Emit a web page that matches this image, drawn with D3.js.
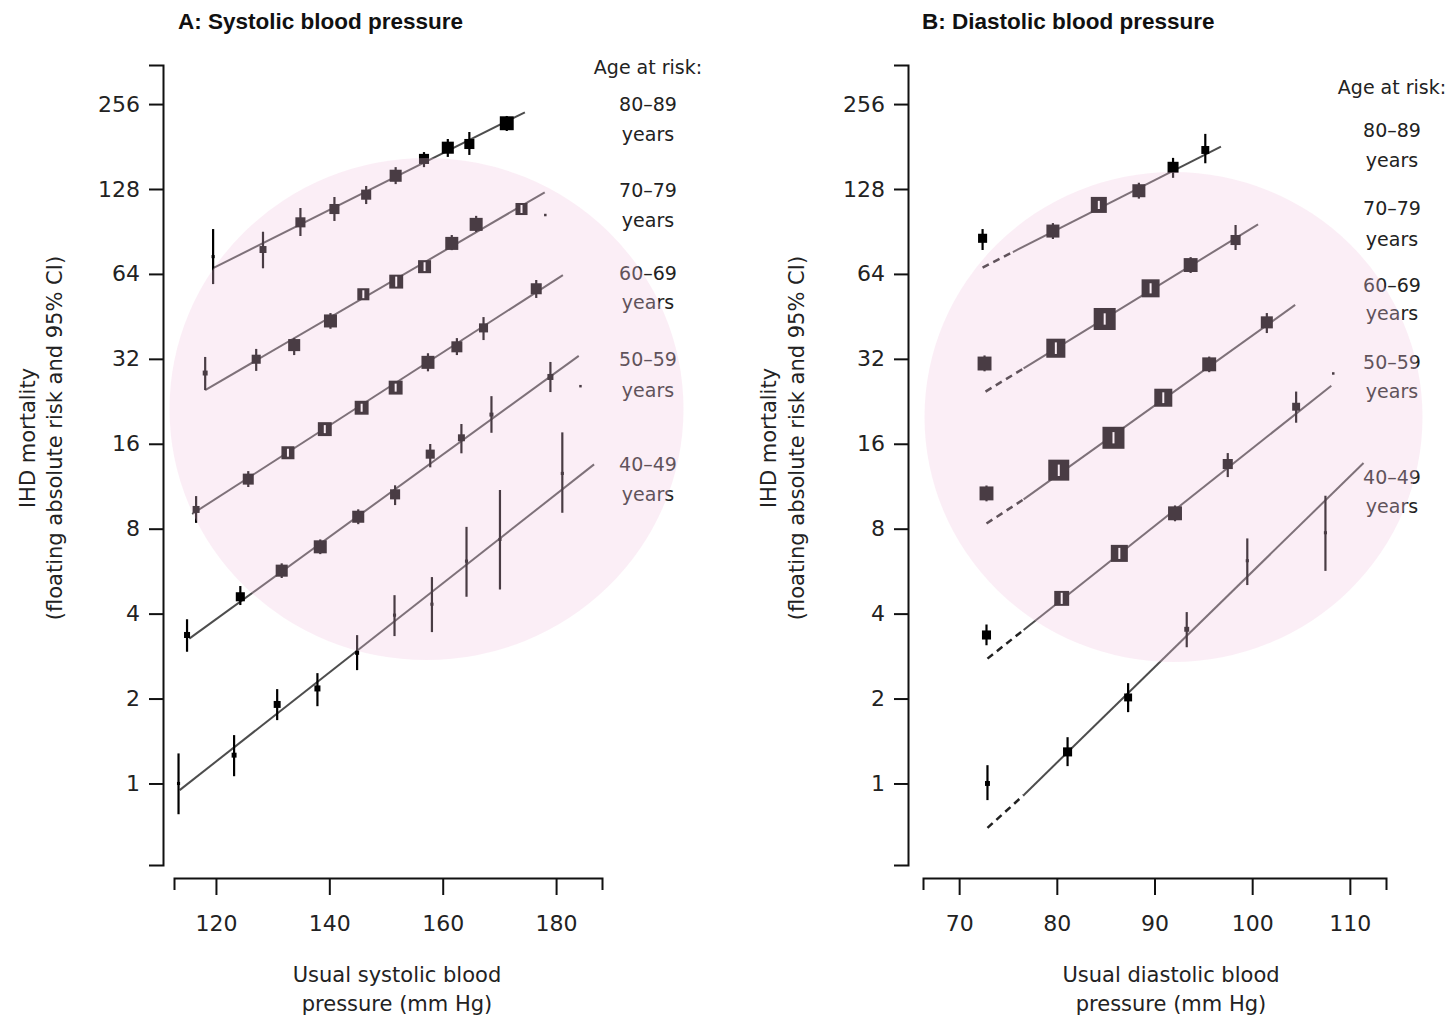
<!DOCTYPE html>
<html>
<head>
<meta charset="utf-8">
<script src="https://cdn.jsdelivr.net/npm/d3@7"></script>
<style>
  body { margin: 0; background: #fff; }
  svg { display: block; }
</style>
</head>
<body>
<div id="chart"></div>
<script>
// ---- data ----
const ageGroups = ["80–89", "70–79", "60–69", "50–59", "40–49"];
const yTicks = [1, 2, 4, 8, 16, 32, 64, 128, 256];
const sbpTicks = [120, 140, 160, 180];
const dbpTicks = [70, 80, 90, 100, 110];

// each point: [usual BP, risk, lower CI, upper CI, weight]
const sbp80 = [
  [119.5, 73.7, 58.9, 92.3, 0.02], [128.3, 78.1, 67.0, 90.3, 0.10], [134.9, 97.5, 87.2, 109.6, 0.21],
  [140.9, 108.7, 98.6, 119.9, 0.21], [146.5, 122.2, 113.2, 131.2, 0.21], [151.7, 142.6, 133.2, 153.0, 0.30],
  [156.7, 163.6, 153.0, 173.0, 0.21], [160.9, 179.3, 166.3, 192.5, 0.30], [164.7, 184.8, 169.0, 203.8, 0.21],
  [171.3, 218.9, 205.5, 232.3, 0.40]
];
const sbp70 = [
  [118.1, 28.5, 24.8, 32.5, 0.05], [127.1, 31.9, 29.0, 34.7, 0.17], [133.8, 35.8, 33.0, 37.9, 0.30],
  [140.2, 43.6, 40.9, 46.5, 0.35], [146.0, 54.2, 52.5, 56.0, 0.30], [151.8, 60.1, 57.7, 62.6, 0.40],
  [156.8, 67.9, 65.5, 70.4, 0.35], [161.6, 82.1, 77.7, 87.9, 0.35], [165.9, 95.9, 90.1, 102.8, 0.35],
  [173.9, 108.7, 105.2, 112.3, 0.30], [178.1, 103.5, 103.5, 103.5, 0.01]
];
const sbp60 = [
  [116.5, 9.36, 8.39, 10.44, 0.10], [125.7, 11.99, 11.24, 12.8, 0.25], [132.7, 14.87, 14.4, 15.36, 0.35],
  [139.2, 18.03, 17.45, 18.63, 0.40], [145.7, 21.47, 20.78, 22.18, 0.40], [151.7, 25.3, 24.49, 26.14, 0.40],
  [157.4, 31.1, 28.9, 33.5, 0.35], [162.5, 35.3, 33.0, 37.9, 0.25], [167.2, 41.2, 37.3, 45.0, 0.17],
  [176.5, 56.7, 52.6, 60.9, 0.25]
];
const sbp50 = [
  [114.9, 3.36, 2.93, 3.82, 0.075], [124.3, 4.59, 4.29, 5.01, 0.17], [131.6, 5.68, 5.35, 6.03, 0.30],
  [138.4, 6.90, 6.50, 7.33, 0.35], [145.1, 8.82, 8.30, 9.37, 0.30], [151.6, 10.59, 9.70, 11.4, 0.21],
  [157.8, 14.7, 13.2, 15.97, 0.17], [163.3, 16.8, 14.8, 18.8, 0.10], [168.6, 20.3, 17.5, 23.6, 0.033],
  [179.0, 27.6, 24.4, 31.2, 0.075], [184.3, 25.6, 25.6, 25.6, 0.01]
];
const sbp40 = [
  [113.4, 1.0, 0.778, 1.278, 0.02], [123.2, 1.26, 1.061, 1.484, 0.05], [130.8, 1.906, 1.677, 2.16, 0.10],
  [137.9, 2.172, 1.879, 2.461, 0.075], [144.9, 2.905, 2.522, 3.356, 0.033], [151.5, 3.951, 3.33, 4.65, 0.02],
  [158.1, 4.32, 3.44, 5.39, 0.02], [164.2, 6.14, 4.59, 8.12, 0.02], [170.1, 7.33, 4.87, 10.97, 0.02],
  [181.1, 12.56, 9.11, 17.56, 0.02]
];

const dbp80 = [
  [72.4, 85.6, 77.8, 92.3, 0.17], [79.6, 90.8, 85.1, 96.9, 0.35], [84.3, 112.4, 108.7, 116.2, 0.53],
  [88.4, 126.2, 118.3, 134.7, 0.35], [91.9, 152.8, 140.2, 165.0, 0.25], [95.2, 176.0, 157.9, 200.7, 0.13]
];
const dbp70 = [
  [72.6, 30.8, 28.9, 32.9, 0.40], [79.9, 34.9, 33.3, 36.6, 0.75], [84.9, 44.3, 42.3, 46.4, 1.0],
  [89.6, 56.9, 54.6, 59.3, 0.67], [93.7, 68.8, 64.5, 73.4, 0.40], [98.3, 84.4, 77.8, 95.4, 0.21]
];
const dbp60 = [
  [72.8, 10.67, 10.0, 11.38, 0.40], [80.2, 12.9, 12.3, 13.5, 0.91], [85.8, 16.8, 16.05, 17.6, 1.0],
  [90.9, 23.3, 22.3, 24.35, 0.67], [95.6, 30.6, 28.7, 32.6, 0.40], [101.5, 43.1, 39.5, 46.5, 0.30]
];
const dbp50 = [
  [72.8, 3.36, 3.09, 3.66, 0.17], [80.5, 4.53, 4.33, 4.74, 0.46], [86.4, 6.54, 6.25, 6.84, 0.60],
  [92.1, 9.07, 8.5, 9.67, 0.40], [97.5, 13.56, 12.19, 14.83, 0.21], [104.5, 21.65, 19.0, 24.5, 0.13],
  [108.3, 28.4, 28.4, 28.4, 0.01]
];
const dbp40 = [
  [72.9, 1.0, 0.873, 1.161, 0.05], [81.1, 1.294, 1.152, 1.459, 0.17], [87.3, 2.018, 1.790, 2.268, 0.13],
  [93.3, 3.52, 3.04, 4.05, 0.05], [99.5, 6.16, 5.05, 7.39, 0.02], [107.5, 7.74, 5.67, 10.47, 0.02]
];

// fitted lines, [BP, risk] at start and end (diastolic: start of dashes, start of solid, end)
const sbpFits = [
  [[119.5, 67.1], [174.5, 239.4]],
  [[118.1, 24.8], [178.0, 124.6]],
  [[115.8, 9.02], [181.2, 63.4]],
  [[115.3, 3.26], [184.0, 32.8]],
  [[113.6, 0.947], [186.7, 13.52]]
];
const dbpFits = [
  [[72.4, 67.4], [75.5, 76.5], [96.8, 180.8]],
  [[72.7, 24.5], [76.6, 29.6], [100.6, 95.9]],
  [[72.8, 8.35], [76.6, 10.16], [104.4, 49.7]],
  [[72.9, 2.77], [76.6, 3.50], [108.1, 25.7]],
  [[72.9, 0.696], [76.6, 0.909], [111.4, 13.67]]
];

// ---- layout ----
const width = 1448, height = 1018;
const font = "'DejaVu Sans', sans-serif";

const svg = d3.select("#chart").append("svg")
  .attr("width", width)
  .attr("height", height)
  .style("background", "#fff");

svg.append("defs").append("clipPath").attr("id", "legendClipB")
  .append("rect").attr("x", 1300).attr("y", 100).attr("width", 122).attr("height", 440);

const size = d3.scaleSqrt().domain([0, 1]).range([0, 22]);

const panels = [
  {
    title: "A: Systolic blood pressure", titleX: 178,
    series: [sbp80, sbp70, sbp60, sbp50, sbp40], fits: sbpFits, dashed: false,
    xDomain: [112.6, 188.1], xRange: [174, 602], xTicks: sbpTicks,
    yAxisX: 163, yLabelX: [28, 55],
    xTitle: ["Usual systolic blood", "pressure (mm Hg)"], xTitleX: 397,
    legendX: 648, legendHead: 74,
    legendRows: [[104, 134], [190, 220], [273, 302], [359, 390], [464, 494]],
    clip: null,
    glow: { cx: 426.5, cy: 409, rx: 257, ry: 251 }
  },
  {
    title: "B: Diastolic blood pressure", titleX: 922,
    series: [dbp80, dbp70, dbp60, dbp50, dbp40], fits: dbpFits, dashed: true,
    xDomain: [66.3, 113.7], xRange: [923, 1386], xTicks: dbpTicks,
    yAxisX: 908, yLabelX: [769, 797],
    xTitle: ["Usual diastolic blood", "pressure (mm Hg)"], xTitleX: 1171,
    legendX: 1392, legendHead: 94,
    legendRows: [[130, 160], [208, 239], [285, 313], [362, 391], [477, 506]],
    clip: "url(#legendClipB)",
    glow: { cx: 1173.5, cy: 417, rx: 249, ry: 245 }
  }
];

const y = d3.scaleLog().base(2)
  .domain([Math.pow(2, -0.96), Math.pow(2, 8.46)])
  .range([865, 65]);

panels.forEach(p => {
  const x = d3.scaleLinear().domain(p.xDomain).range(p.xRange);
  const g = svg.append("g");

  // title
  svg.append("text")
    .attr("x", p.titleX).attr("y", 29)
    .attr("font-family", "'Liberation Sans', Arial, sans-serif")
    .attr("font-weight", "bold")
    .attr("font-size", "22.5px")
    .attr("fill", "#111")
    .text(p.title);

  // fitted lines
  p.fits.forEach(f => {
    if (f.length === 3) {
      g.append("line")
        .attr("x1", x(f[0][0])).attr("y1", y(f[0][1]))
        .attr("x2", x(f[1][0])).attr("y2", y(f[1][1]))
        .attr("stroke", "#222").attr("stroke-width", 2.5)
        .attr("stroke-dasharray", "7,5");
      g.append("line")
        .attr("x1", x(f[1][0])).attr("y1", y(f[1][1]))
        .attr("x2", x(f[2][0])).attr("y2", y(f[2][1]))
        .attr("stroke", "#4d4d4d").attr("stroke-width", 2);
    } else {
      g.append("line")
        .attr("x1", x(f[0][0])).attr("y1", y(f[0][1]))
        .attr("x2", x(f[1][0])).attr("y2", y(f[1][1]))
        .attr("stroke", "#4d4d4d").attr("stroke-width", 2);
    }
  });

  // points with confidence intervals
  p.series.forEach(rows => {
    rows.forEach(r => {
      const cx = x(r[0]), cy = y(r[1]);
      const s = Math.max(size(r[4]), 2.5);
      const top = y(r[3]), bot = y(r[2]);
      const inside = top >= cy - s / 2 && bot <= cy + s / 2;
      if (!inside) {
        g.append("line")
          .attr("x1", cx).attr("x2", cx).attr("y1", top).attr("y2", bot)
          .attr("stroke", "#000").attr("stroke-width", 2.2);
      }
      g.append("rect")
        .attr("x", cx - s / 2).attr("y", cy - s / 2)
        .attr("width", s).attr("height", s)
        .attr("fill", "#000");
      if (inside && bot - top > 1) {
        g.append("line")
          .attr("x1", cx).attr("x2", cx).attr("y1", top).attr("y2", bot)
          .attr("stroke", "#fff").attr("stroke-width", 2);
      }
    });
  });

  // y axis
  const yAxis = svg.append("g")
    .attr("transform", `translate(${p.yAxisX},0)`)
    .call(d3.axisLeft(y).tickValues(yTicks).tickFormat(d3.format("d"))
      .tickSizeInner(14).tickSizeOuter(14).tickPadding(9));
  // x axis
  const xAxis = svg.append("g")
    .attr("transform", "translate(0,878)")
    .call(d3.axisBottom(x).tickValues(p.xTicks)
      .tickSizeInner(17).tickSizeOuter(12).tickPadding(20));

  [yAxis, xAxis].forEach(a => {
    a.attr("font-family", font).attr("font-size", "22px");
    a.select(".domain").attr("stroke", "#111").attr("stroke-width", 2);
    a.selectAll(".tick line").attr("stroke", "#111").attr("stroke-width", 2);
    a.selectAll(".tick text").attr("fill", "#222");
  });

  // y axis title
  const yt = ["IHD mortality", "(floating absolute risk and 95% CI)"];
  yt.forEach((t, i) => {
    svg.append("text")
      .attr("transform", `translate(${p.yLabelX[i]},438) rotate(-90)`)
      .attr("text-anchor", "middle")
      .attr("dominant-baseline", "central")
      .attr("font-family", font)
      .attr("font-size", "21px")
      .attr("fill", "#222")
      .text(t);
  });

  // x axis title
  p.xTitle.forEach((t, i) => {
    svg.append("text")
      .attr("x", p.xTitleX).attr("y", 982 + i * 29)
      .attr("text-anchor", "middle")
      .attr("font-family", font)
      .attr("font-size", "21px")
      .attr("fill", "#222")
      .text(t);
  });

  // legend
  svg.append("text")
    .attr("x", p.legendX).attr("y", p.legendHead)
    .attr("text-anchor", "middle")
    .attr("font-family", font).attr("font-size", "19px")
    .attr("fill", "#222")
    .text("Age at risk:");
  const lg = svg.append("g").attr("clip-path", p.clip);
  ageGroups.forEach((a, i) => {
    lg.append("text")
      .attr("x", p.legendX).attr("y", p.legendRows[i][0] + 7)
      .attr("text-anchor", "middle")
      .attr("font-family", font).attr("font-size", "19px")
      .attr("fill", "#222")
      .text(a);
    lg.append("text")
      .attr("x", p.legendX).attr("y", p.legendRows[i][1] + 7)
      .attr("text-anchor", "middle")
      .attr("font-family", font).attr("font-size", "19px")
      .attr("fill", "#222")
      .text("years");
  });

  // translucent pink highlight laid over the plot
  svg.append("ellipse")
    .attr("cx", p.glow.cx).attr("cy", p.glow.cy)
    .attr("rx", p.glow.rx).attr("ry", p.glow.ry)
    .attr("fill", "rgb(242,198,226)")
    .attr("fill-opacity", 0.3);
});
</script>
</body>
</html>
